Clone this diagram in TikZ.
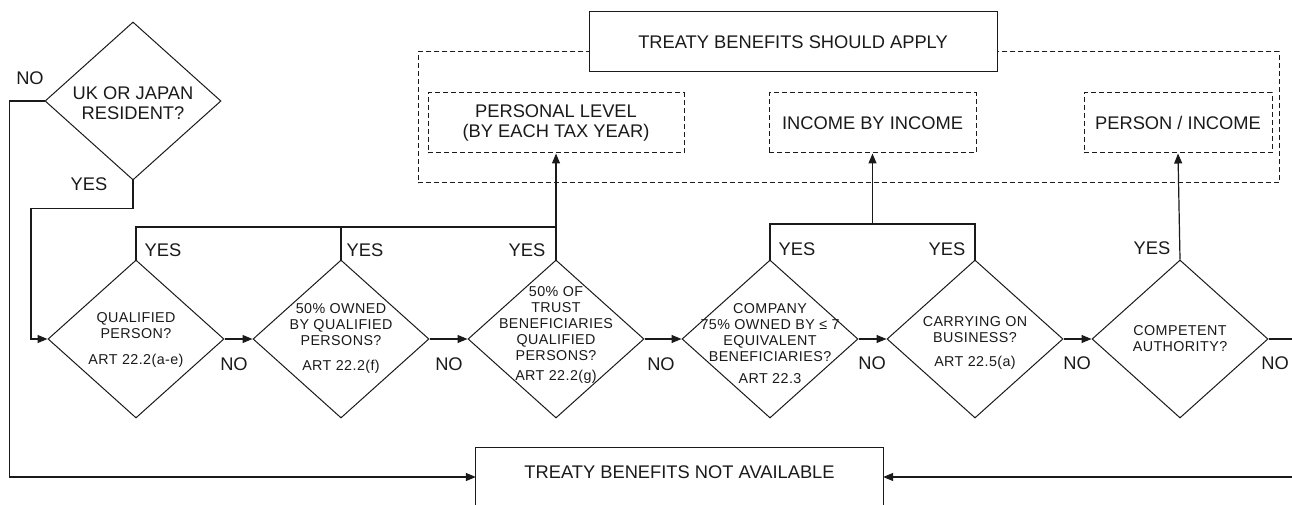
\documentclass[tikz,border=0pt]{standalone}
\usepackage{fontspec}
\setmainfont{Liberation Sans}
\usetikzlibrary{arrows.meta,shapes.geometric,calc}
\definecolor{ink}{HTML}{1A1A1A}
\tikzset{
  shapeline/.style={draw=ink, line width=1pt},
  dia/.style={shapeline, shape=diamond, minimum width=176pt, minimum height=158pt, inner sep=0pt},
  qtext/.style={align=center, inner sep=0pt, font=\fontsize{14.3}{16}\selectfont\addfontfeature{LetterSpace=3}, text=ink},
  bigtext/.style={align=center, inner sep=0pt, font=\fontsize{18.3}{20}\selectfont, text=ink},
  dashbox/.style={draw=ink, line width=1pt, dash pattern=on 5pt off 3pt, inner sep=0pt, align=center, font=\fontsize{18.3}{20}\selectfont, text=ink},
  solidbox/.style={shapeline, fill=white, inner sep=0pt, align=center, font=\fontsize{18.3}{20}\selectfont, text=ink},
  conn/.style={draw=ink, line width=1.2pt},
  arr/.style={conn, -{Triangle[length=10pt,width=8pt]}},
  lab/.style={inner sep=0pt, font=\fontsize{18.3}{20}\selectfont, text=ink}
}
\begin{document}
\begin{tikzpicture}[x=1pt,y=-1pt]
\useasboundingbox (0,0) rectangle (1292,505);
\fill[white] (0,0) rectangle (1292,505);

% top group
\node[dashbox, minimum width=861pt, minimum height=131pt] (grp) at (848.5,117.5) {};
\node[solidbox, minimum width=408pt, minimum height=60pt] (ts) at (793,42) {TREATY BENEFITS SHOULD APPLY};
\node[dashbox, minimum width=256pt, minimum height=60pt] (pl) at (556,123) {PERSONAL LEVEL\\(BY EACH TAX YEAR)};
\node[dashbox, minimum width=207pt, minimum height=60pt] (ii) at (872.5,123) {INCOME BY INCOME};
\node[dashbox, minimum width=188pt, minimum height=60pt] (pi) at (1178,123) {PERSON / INCOME};

% first question
\node[dia] (d0) at (133,101) {};
\node[bigtext] (d0t) at (133,103) {UK OR JAPAN\\RESIDENT?};

% diamonds
\node[dia] (d1) at (136,339) {};
\node[dia] (d2) at (341,339) {};
\node[dia] (d3) at (556,339) {};
\node[dia] (d4) at (770,339) {};
\node[dia] (d5) at (975,339) {};
\node[dia] (d6) at (1180,339) {};

\node[qtext] (d1t) at (136,340) {QUALIFIED\\PERSON?\\[10pt]ART 22.2(a-e)};
\node[qtext] (d2t) at (341,338) {50\% OWNED\\BY QUALIFIED\\PERSONS?\\[9pt]ART 22.2(f)};
\node[qtext] (d3t) at (556,335) {50\% OF\\TRUST\\BENEFICIARIES\\QUALIFIED\\PERSONS?\\[4pt]ART 22.2(g)};
\node[qtext] (d4t) at (770,344) {COMPANY\\75\% OWNED BY ≤ 7\\EQUIVALENT\\BENEFICIARIES?\\[6pt]ART 22.3};
\node[qtext] (d5t) at (975,343) {CARRYING ON\\BUSINESS?\\[8pt]ART 22.5(a)};
\node[qtext] (d6t) at (1180,339) {COMPETENT\\AUTHORITY?};

% bottom box
\node[inner sep=0pt, minimum width=407pt, minimum height=58pt] (nb) at (679.5,477) {};
\node[bigtext] (nbt) at ([yshift=5pt]nb.center) {TREATY BENEFITS NOT AVAILABLE};
\draw[shapeline] (nb.west |- 0,530) -- (nb.north west) -- (nb.north east) -- (nb.east |- 0,530);

% junction points
\coordinate (j1) at (556,227);
\coordinate (j2) at (872.5,224);

% connectors
\draw[arr] (d0.west) -- ++(-35,0) |- (nb.west);
\draw[arr] (d0.south) -- ++(0,28) -| (31,300) |- (d1.west);
\draw[arr] (d1.east) -- (d2.west);
\draw[arr] (d2.east) -- (d3.west);
\draw[arr] (d3.east) -- (d4.west);
\draw[arr] (d4.east) -- (d5.west);
\draw[arr] (d5.east) -- (d6.west);
\draw[arr] (d6.east) -- ++(40,0) |- (nb.east);

\draw[conn] (d1.north) |- (j1);
\draw[conn] (d2.north) -- (d2.north |- j1);
\draw[arr] (d3.north) -- (pl.south);
\draw[conn] (d4.north) |- (j2) -| (d5.north);
\draw[arr] (j2) -- (ii.south);
\draw[arr] (d6.north) -- (pi.south);

% labels
\node[lab] (no0) at (30,78) {NO};
\node[lab] (yes0) at (89,184) {YES};
\node[lab] (yes1) at (163,250) {YES};
\node[lab] (yes2) at (365,250) {YES};
\node[lab] (yes3) at (527,250) {YES};
\node[lab] (yes4) at (797,249) {YES};
\node[lab] (yes5) at (947,249) {YES};
\node[lab] (yes6) at (1152,248) {YES};
\node[lab] (no1) at (234,364) {NO};
\node[lab] (no2) at (449,364) {NO};
\node[lab] (no3) at (661,364) {NO};
\node[lab] (no4) at (872,363) {NO};
\node[lab] (no5) at (1077,363) {NO};
\node[lab] (no6) at (1275,363) {NO};
\end{tikzpicture}
\end{document}
